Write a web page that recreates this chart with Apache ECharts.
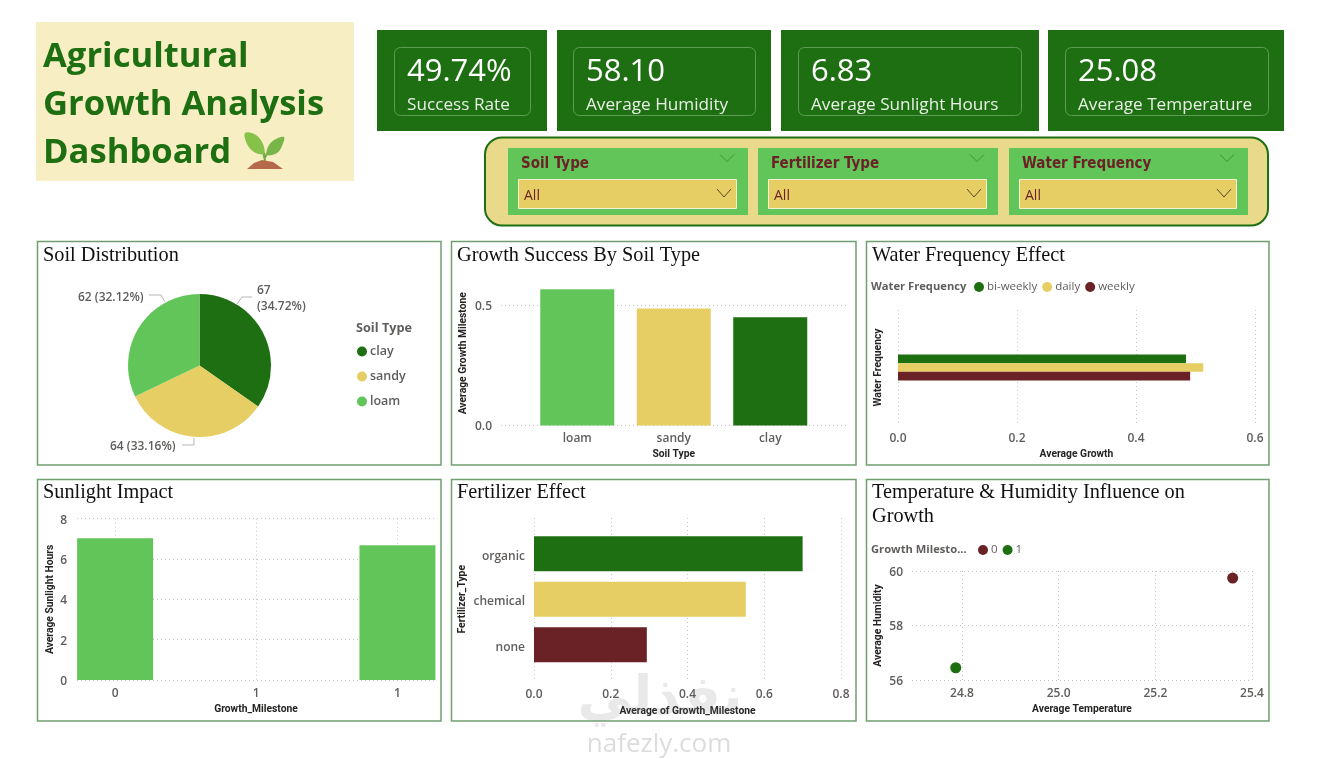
<!DOCTYPE html>
<html><head><meta charset="utf-8">
<script src="https://cdn.jsdelivr.net/npm/echarts@6/dist/echarts.min.js"></script>
<style>html,body{margin:0;padding:0;background:#fff}#c{width:1318px;height:759px}</style>
</head><body><div id="c"></div>
<script>
// ---- data ----
const kpiValues = ['49.74%', '58.10', '6.83', '25.08'];
const kpiLabels = ['Success Rate', 'Average Humidity', 'Average Sunlight Hours', 'Average Temperature'];
const slicerNames = ['Soil Type', 'Fertilizer Type', 'Water Frequency'];
const soilNames = ['clay', 'sandy', 'loam'];
const soilCounts = [67, 64, 62];
const growthSoils = ['loam', 'sandy', 'clay'];
const growthValues = [0.566, 0.486, 0.449];
const waterNames = ['bi-weekly', 'daily', 'weekly'];
const waterValues = [0.484, 0.513, 0.491];
const milestoneX = [0, 1];
const sunlightValues = [7.03, 6.68];
const fertilizerTypes = ['organic', 'chemical', 'none'];
const fertilizerValues = [0.70, 0.552, 0.294];
const scatterNames = ['0', '1'];
const scatterTemps = [25.36, 24.787];
const scatterHumidity = [59.74, 56.45];

// ---- palette / fonts ----
const GREEN = '#1E6F12', LIME = '#62C55A', YELLOW = '#E6CE65', MAROON = '#6B2226';
const GREY = '#605E5C', INK = '#252423', BORDER = '#6F9E6F', GRID = '#C4C4C4';
const UI = '"Open Sans"', NARROW = '"DejaVu Sans Condensed"', SERIF = '"Liberation Serif"';
const soilColors = [GREEN, YELLOW, LIME];
const waterColors = [GREEN, YELLOW, MAROON];
const fertColors = [GREEN, YELLOW, MAROON];
const growthColors = [LIME, YELLOW, GREEN];
const scatterColors = [MAROON, GREEN];

// ---- dashboard furniture ----
const g = [];
const rect = (x, y, w, h, fill, stroke, lw, r) => g.push({type:'rect', silent:true, z:0,
  shape:{x, y, width:w, height:h, r:r||0}, style:{fill:fill||'none', stroke:stroke||null, lineWidth:lw||0}});
const text = (x, y, t, font, fill, align, z, extra) => g.push({type:'text', silent:true, z:z||5, x, y,
  style:Object.assign({text:t, font, fill, textAlign:align||'left', textVerticalAlign:'middle'}, extra||{})});
const chev = (cx, cy, w, h, col) => g.push({type:'polyline', silent:true, z:5,
  shape:{points:[[cx-w, cy-h],[cx, cy+h],[cx+w, cy-h]]}, style:{stroke:col, lineWidth:1, fill:'none'}});
const blob = (points, fill) => g.push({type:'polygon', silent:true, z:5, shape:{points, smooth:0.35}, style:{fill}});

// heading
rect(36, 22, 318, 159, '#F7EEC4');
['Agricultural', 'Growth Analysis', 'Dashboard'].forEach((t, i) =>
  text(43, 57.5 + i * 48, t, '700 34.6px ' + UI, GREEN));
// seedling
g.push({type:'polygon', silent:true, z:5, shape:{points:[[247,169],[254,163],[262,160],[273,162],[283,169]]}, style:{fill:'#B5694A'}});
g.push({type:'bezierCurve', silent:true, z:5, shape:{x1:265, y1:161, x2:265, y2:153, cpx1:265, cpy1:157, cpx2:262, cpy2:155}, style:{stroke:'#6FA843', lineWidth:2, fill:'none'}});
g.push({type:'bezierCurve', silent:true, z:5, shape:{x1:265, y1:158, x2:271, y2:150, cpx1:266, cpy1:154, cpx2:268, cpy2:152}, style:{stroke:'#6FA843', lineWidth:2, fill:'none'}});
blob([[245,133],[256,135],[263,144],[264,154],[254,152],[247,144]], '#86C24A');
blob([[284,137],[274,140],[268,147],[267,155],[277,153],[282,146]], '#79B64A');

// KPI cards
const kpiBoxes = [[377,170,394,136],[557,214,573,182],[781,258,798,223],[1048,236,1065,203]];
kpiBoxes.forEach((b, i) => {
  rect(b[0], 30, b[1], 101, GREEN);
  rect(b[2]+.5, 47.5, b[3], 68, 'none', '#5E9C56', 1, 6);
  text(b[2] + 13, 72, kpiValues[i], '400 31px ' + UI, '#fff');
  text(b[2] + 13, 105, kpiLabels[i], '400 17.2px ' + UI, '#E9F1E6');
});

// slicer band
rect(485, 137.5, 783, 88, '#E9DA8B', GREEN, 2, 17);
[[508,240],[758,240],[1009,239]].forEach((b, i) => {
  rect(b[0], 148, b[1], 67, LIME);
  text(b[0] + 13, 164, slicerNames[i], '700 15px ' + NARROW, MAROON);
  chev(b[0] + b[1] - 21, 158, 7, 3.5, '#3F8F3A');
  rect(b[0] + 10.5, 179.5, b[1] - 22, 29, YELLOW, '#F5F0D2', 1);
  text(b[0] + 16, 196, 'All', '400 14px ' + UI, MAROON);
  chev(b[0] + b[1] - 24, 193, 7, 4, '#5A4A1E');
});

// panels
[[37,241,403.5,223.5],[451,241,404.5,223.5],[866,241,402.5,223.5],[37,479,403.5,241.5],[451,479,404.5,241.5],[866,479,402.5,241.5]]
  .forEach(p => rect(p[0]+.5, p[1]+.5, p[2], p[3], '#fff', BORDER, 1.5));

// faint site mark
text(660, 700, 'نفذلي', '700 54px "DejaVu Sans"', 'rgba(120,120,120,0.16)', 'center', 20);
text(659, 745, 'nafezly.com', '400 26px "Open Sans"', 'rgba(120,120,120,0.26)', 'center', 20);

// ---- option helpers ----
const tick = {color:GREY, fontFamily:UI, fontSize:12, fontWeight:600};
const yTick = Object.assign({verticalAlign:'top', lineHeight:3}, tick);
const nameStyle = {color:INK, fontFamily:'Roboto', fontSize:10.3, fontWeight:700};
const dotted = {show:true, lineStyle:{type:[1,3], color:GRID, width:1}};
const off = {show:false};
const ttl = (left, top, t) => ({text:t, left, top, padding:0, textStyle:{fontFamily:SERIF, fontWeight:400, fontSize:20.3, color:'#111', lineHeight:24}});
const mini = (left, top, t, size) => ({text:t, left, top, padding:0, textStyle:{fontFamily:UI, fontWeight:700, fontSize:size||11.2, color:GREY}});
const axis = (o) => Object.assign({axisLine:off, axisTick:off, splitLine:off, nameTextStyle:nameStyle, nameLocation:'middle'}, o);
const pieLabelSpots = [
  {x:257, y:299, align:'left', verticalAlign:'middle', labelLinePoints:[[237,304],[242,297],[252,297]]},
  {x:110, y:447, align:'left', verticalAlign:'middle', labelLinePoints:[[194,438],[194,445],[182,445]]},
  {x:78, y:298, align:'left', verticalAlign:'middle', labelLinePoints:[[165,302],[161,295],[149,295]]}
];

const option = {
  animation:false,
  backgroundColor:'#fff',
  graphic:{elements:g},
  title:[
    ttl(43, 244, 'Soil Distribution'), ttl(457, 244, 'Growth Success By Soil Type'), ttl(872, 244, 'Water Frequency Effect'),
    ttl(43, 481, 'Sunlight Impact'), ttl(457, 481, 'Fertilizer Effect'), ttl(872, 481, 'Temperature & Humidity Influence on\nGrowth'),
    mini(356, 322, 'Soil Type', 12.7), mini(871, 281, 'Water Frequency'), mini(871, 544, 'Growth Milesto...')
  ],
  legend:[
    {data:soilNames, orient:'vertical', left:357, top:343, itemWidth:10, itemHeight:10, itemGap:8, icon:'circle', selectedMode:false, padding:0,
      textStyle:{fontFamily:UI, fontWeight:600, fontSize:12.5, color:GREY, padding:[0,0,0,-2], lineHeight:17}},
    {data:waterNames, orient:'horizontal', left:974, top:281, itemWidth:10, itemHeight:10, itemGap:5, icon:'circle', selectedMode:false, padding:0,
      textStyle:{fontFamily:UI, fontSize:11.5, color:GREY, padding:[0,0,0,-2]}},
    {data:scatterNames, orient:'horizontal', left:978, top:544, itemWidth:10, itemHeight:10, itemGap:5, icon:'circle', selectedMode:false, padding:0,
      textStyle:{fontFamily:UI, fontSize:11.5, color:GREY, padding:[0,0,0,-2]}}
  ],
  grid:[
    {left:501, top:281, width:346, height:144.5},   // 0 growth gridlines
    {left:529, top:281, width:289.5, height:144.5}, // 1 growth bars
    {left:898, top:310, width:357, height:115},     // 2 water
    {left:77, top:518.7, width:358, height:161.3},  // 3 sunlight
    {left:534, top:518, width:307, height:162},     // 4 fertilizer gridlines
    {left:534, top:531, width:307, height:136.5},   // 5 fertilizer bars
    {left:912, top:571, width:340, height:109}      // 6 scatter
  ],
  xAxis:[
    axis({gridIndex:0, type:'value', min:0, max:1, show:false}),
    axis({gridIndex:1, type:'category', data:growthSoils, name:'Soil Type', nameGap:24, axisLabel:Object.assign({margin:7}, tick)}),
    axis({gridIndex:2, type:'value', min:0, max:0.6, interval:0.2, splitLine:dotted, name:'Average Growth', nameGap:24,
      axisLabel:Object.assign({margin:8, formatter:v => v.toFixed(1)}, tick)}),
    axis({gridIndex:3, type:'value', min:-0.135, max:1.133, splitLine:dotted, axisTick:{show:false, customValues:[0,0.5,1]}, name:'Growth_Milestone', nameGap:24,
      axisLabel:Object.assign({margin:8, customValues:[0,0.5,1], formatter:v => String(Math.round(v + 0.001))}, tick)}),
    axis({gridIndex:4, type:'value', min:0, max:0.8, interval:0.2, splitLine:dotted, name:'Average of Growth_Milestone', nameGap:26,
      axisLabel:Object.assign({margin:9, formatter:v => v.toFixed(1)}, tick)}),
    axis({gridIndex:5, type:'value', min:0, max:0.8, show:false}),
    axis({gridIndex:6, type:'value', min:24.6965, max:25.4, splitLine:dotted, axisTick:{show:false, customValues:[24.8,25.0,25.2,25.4]}, name:'Average Temperature', nameGap:24,
      axisLabel:Object.assign({margin:8, customValues:[24.8,25.0,25.2,25.4], formatter:v => v.toFixed(1)}, tick)})
  ],
  yAxis:[
    axis({gridIndex:0, type:'value', min:0, max:0.6, splitLine:Object.assign({}, dotted), axisTick:{show:false, customValues:[0,0.5]},
      name:'Average Growth Milestone', nameGap:33,
      axisLabel:Object.assign({margin:9, customValues:[0,0.5], formatter:v => v.toFixed(1)}, yTick)}),
    axis({gridIndex:1, type:'value', min:0, max:0.6, show:false}),
    axis({gridIndex:2, type:'category', data:['all'], inverse:true, name:'Water Frequency', nameGap:15, axisLabel:off}),
    axis({gridIndex:3, type:'value', min:0, max:8, interval:2, splitLine:dotted, name:'Average Sunlight Hours', nameGap:22,
      axisLabel:Object.assign({margin:10}, yTick)}),
    axis({gridIndex:4, type:'value', min:0, max:1, show:false}),
    axis({gridIndex:5, type:'category', data:fertilizerTypes, inverse:true, name:'Fertilizer_Type', nameGap:67,
      axisLabel:Object.assign({margin:9}, tick, {verticalAlign:'top', lineHeight:5})}),
    axis({gridIndex:6, type:'value', min:56, max:60, interval:2, splitLine:dotted, name:'Average Humidity', nameGap:29,
      axisLabel:Object.assign({margin:9}, yTick)})
  ],
  series:[
    {type:'pie', name:'Soil', center:[199.5, 365.5], radius:[0, 71.5], startAngle:90, clockwise:true, percentPrecision:2,
      data:soilNames.map((n, i) => ({name:n, value:soilCounts[i], itemStyle:{color:soilColors[i]}})),
      label:{fontFamily:UI, fontSize:12, fontWeight:600, color:GREY, lineHeight:16,
        formatter:p => p.dataIndex === 0 ? p.value + '\n(' + p.percent.toFixed(2) + '%)' : p.value + ' (' + p.percent.toFixed(2) + '%)'},
      labelLine:{show:true, lineStyle:{color:'#B5B5B5', width:1}, length:8, length2:12},
      labelLayout:p => pieLabelSpots[p.dataIndex]},
    {type:'bar', name:'Growth', xAxisIndex:1, yAxisIndex:1, barWidth:74,
      data:growthValues.map((v, i) => ({value:v, itemStyle:{color:growthColors[i]}}))},
    ...waterNames.map((n, i) => ({type:'bar', name:n, xAxisIndex:2, yAxisIndex:2, barWidth:8.7, barGap:'0%',
      itemStyle:{color:waterColors[i]}, data:[waterValues[i]]})),
    {type:'bar', name:'Sunlight', xAxisIndex:3, yAxisIndex:3, barWidth:76, clip:false, itemStyle:{color:LIME},
      data:milestoneX.map((x, i) => [x, sunlightValues[i]])},
    {type:'bar', name:'Fertilizer', xAxisIndex:5, yAxisIndex:5, barWidth:35,
      data:fertilizerValues.map((v, i) => ({value:v, itemStyle:{color:fertColors[i]}}))},
    ...scatterNames.map((n, i) => ({type:'scatter', name:n, xAxisIndex:6, yAxisIndex:6, symbolSize:11,
      itemStyle:{color:scatterColors[i], opacity:1}, data:[[scatterTemps[i], scatterHumidity[i]]]}))
  ]
};
echarts.init(document.getElementById('c')).setOption(option);
</script></body></html>
